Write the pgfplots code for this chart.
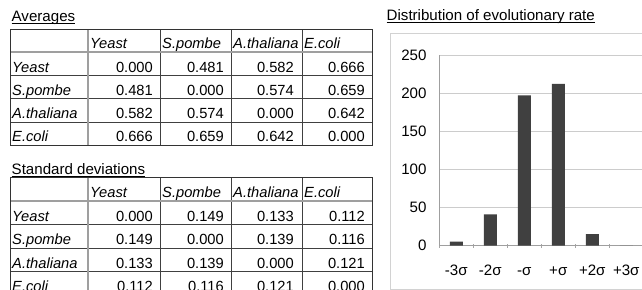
\documentclass[border=0pt]{standalone}
\usepackage{fontspec}
\setmainfont{Liberation Sans}
\usepackage{pgfplots}
\pgfplotsset{compat=1.18}
\newcommand{\tf}{\fontsize{14.7bp}{17bp}\selectfont}
\newcommand{\hf}{\fontsize{15.1bp}{17bp}\selectfont}
\begin{document}
\begin{tikzpicture}
\path[use as bounding box] (0,0) rectangle (642bp,-290bp);
\clip (0,0) rectangle (642bp,-290bp);
\fill[white] (0,0) rectangle (642bp,-290bp);
\begin{scope}[x=1bp,y=-1bp]
  % titles
  \node[anchor=base west,inner sep=0,font=\hf] (t1) at (11.5,21) {Averages};
  \draw[line width=1bp] ([yshift=-2bp]t1.base west) -- ([yshift=-2bp]t1.base east);
  \node[anchor=base west,inner sep=0,font=\hf] (t2) at (11.5,174) {Standard deviations};
  \draw[line width=1bp] ([yshift=-2bp]t2.base west) -- ([yshift=-2bp]t2.base east);
  \node[anchor=base west,inner sep=0,font=\hf] (t3) at (386.5,20.5) {Distribution of evolutionary rate};
  \draw[line width=1bp] ([yshift=-2.2bp]t3.base west) -- ([yshift=-2.2bp]t3.base east);
  % chart frame
  \draw[gray!35,line width=1bp] (390,33.3) rectangle (700,289.3);
  % tables
  \foreach \T/\top/\hb/\ra/\rb/\rc/\rd/\va/\vb/\vc/\vd/\ve/\vf in
    {1/29.3/52.3/75.5/98.7/121.9/145/0.481/0.582/0.666/0.574/0.659/0.642,
     2/177/201/224.5/248/271.5/295/0.149/0.133/0.112/0.139/0.116/0.121}{
    % grid
    \draw[black!75,line width=0.8bp] (10,\ra) -- (372,\ra) (10,\rb) -- (372,\rb) (10,\rc) -- (372,\rc);
    \draw[black!75,line width=0.8bp] (160,\top) -- (160,\rd) (231,\top) -- (231,\rd) (302,\top) -- (302,\rd);
    \draw[gray!75,line width=1.8bp] (10,\hb) -- (372,\hb);
    \draw[gray!75,line width=1.8bp] (88,\top) -- (88,\rd);
    \draw[black!80,line width=1bp] (10,\top) rectangle (372,\rd);
    % header
    \foreach \x/\n in {90/Yeast,162/S.pombe,233/A.thaliana,304/E.coli}
      \node[anchor=base west,inner sep=0,font=\tf\itshape] at (\x,\hb-4) {\n};
    \foreach \yy/\n in {\ra/Yeast,\rb/S.pombe,\rc/A.thaliana,\rd/E.coli}
      \node[anchor=base west,inner sep=0,font=\tf\itshape] at (12,\yy-3.5) {\n};
    % values
    \foreach \x/\a/\b/\c/\d in {153/0.000/\va/\vb/\vc, 224/\va/0.000/\vd/\ve, 294/\vb/\vd/0.000/\vf, 365/\vc/\ve/\vf/0.000}{
      \node[anchor=base east,inner sep=0,font=\tf] at (\x,\ra-3.5) {\a};
      \node[anchor=base east,inner sep=0,font=\tf] at (\x,\rb-3.5) {\b};
      \node[anchor=base east,inner sep=0,font=\tf] at (\x,\rc-3.5) {\c};
      \node[anchor=base east,inner sep=0,font=\tf] at (\x,\rd-3.5) {\d};
    }
  }
\end{scope}
\begin{axis}[
  at={(439.3bp,-245.5bp)}, anchor=south west,
  scale only axis, width=204bp, height=190.5bp,
  xmin=-0.5, xmax=5.5, ymin=0, ymax=250,
  ytick={0,50,...,250},
  xtick={0,...,5},
  xticklabels={-3σ,-2σ,-σ,+σ,+2σ,+3σ},
  minor xtick={-0.5,0.5,...,5.5},
  major tick length=0pt, minor tick length=4bp,
  tick align=inside,
  minor tick style={gray!70,line width=0.8bp},
  ymajorgrids, grid style={gray!40,line width=0.8bp},
  axis x line=bottom, axis y line=left,
  axis line style={-,gray!75,line width=1bp},
  /pgf/number format/assume math mode=true,
  ticklabel style={font=\hf, inner sep=0pt},
  yticklabel style={xshift=-12.6bp},
  xticklabel style={yshift=-19bp, text height=10.8bp, text depth=0pt},
]
\addplot[ybar, bar width=13bp, fill=black!75, draw=none] coordinates {
  (0,5) (1,41) (2,197) (3,212) (4,15) (5,0)
};
\end{axis}
\end{tikzpicture}
\end{document}
